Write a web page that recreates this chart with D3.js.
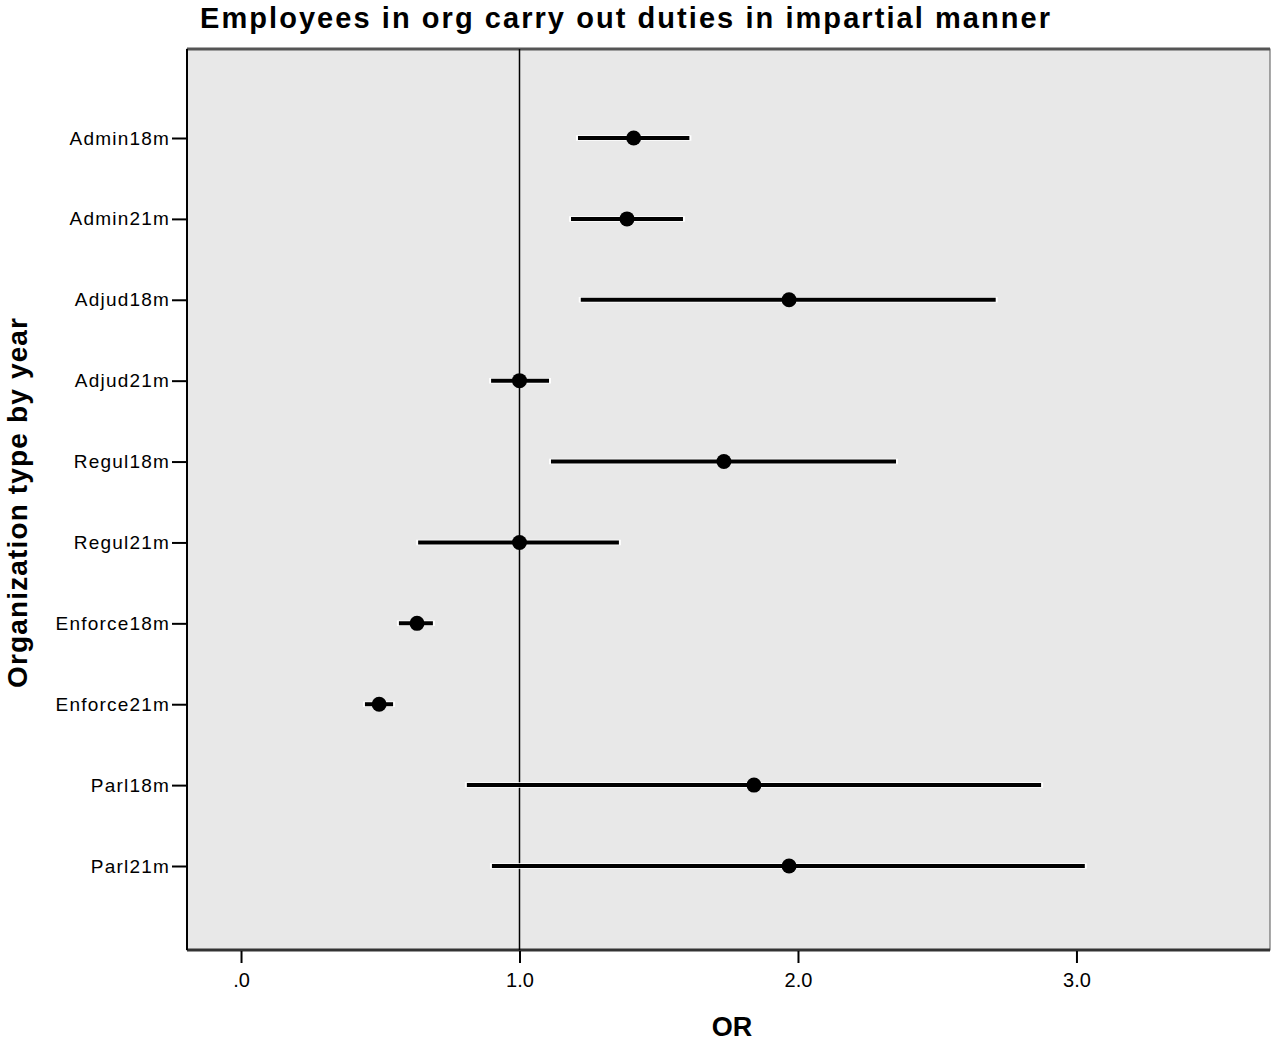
<!DOCTYPE html>
<html><head><meta charset="utf-8">
<script src="https://cdn.jsdelivr.net/npm/d3@7"></script>
<style>body{margin:0;background:#fff}svg{display:block}text{font-family:"Liberation Sans",Arial,sans-serif}</style>
</head><body>
<svg id="c" width="1275" height="1041"></svg>
<script>
const categories = ["Admin18m","Admin21m","Adjud18m","Adjud21m","Regul18m","Regul21m","Enforce18m","Enforce21m","Parl18m","Parl21m"];
const orValues   = [1.41, 1.386, 1.968, 1.0, 1.734, 1.0, 0.632, 0.496, 1.842, 1.968];
const ciLower    = [1.21, 1.185, 1.22, 0.898, 1.113, 0.636, 0.567, 0.445, 0.811, 0.901];
const ciUpper    = [1.61, 1.587, 2.71, 1.106, 2.352, 1.357, 0.689, 0.546, 2.873, 3.03];
const xTicks     = [0, 1, 2, 3];
const xTickLabels= [".0", "1.0", "2.0", "3.0"];
const refValue   = 1.0;

const svg = d3.select("#c");
const L = 187, R = 1270, T = 49, B = 950;

const x = d3.scaleLinear().domain([-0.194, 3.695]).range([L, R]);
const y = d3.scalePoint().domain(categories).range([T + 89, B - 84]);

// plot background
svg.append("rect").attr("x", L).attr("y", T).attr("width", R - L).attr("height", B - T)
  .attr("fill", "#e8e8e8").attr("stroke", "#555").attr("stroke-width", 1);
svg.append("line").attr("x1", L).attr("x2", R).attr("y1", T).attr("y2", T).attr("stroke", "#555").attr("stroke-width", 3);
svg.append("line").attr("x1", L).attr("x2", R).attr("y1", B).attr("y2", B).attr("stroke", "#333").attr("stroke-width", 3);
svg.append("line").attr("x1", L).attr("x2", L).attr("y1", T).attr("y2", B).attr("stroke", "#000").attr("stroke-width", 2);

// reference line
svg.append("line").attr("x1", x(refValue)).attr("x2", x(refValue)).attr("y1", T).attr("y2", B)
  .attr("stroke", "#000").attr("stroke-width", 1.5);

// x axis
const xAxis = d3.axisBottom(x).tickValues(xTicks).tickFormat((d, i) => xTickLabels[i]).tickSize(12).tickPadding(10);
const gx = svg.append("g").attr("transform", `translate(0,${B + 1})`).call(xAxis);
gx.select(".domain").remove();
gx.selectAll(".tick line").attr("stroke", "#000").attr("stroke-width", 2);
gx.selectAll(".tick text").attr("font-size", 20).attr("fill", "#000").style("font-family", "Liberation Sans, Arial, sans-serif");

// y axis
const yAxis = d3.axisLeft(y).tickSize(14).tickPadding(2);
const gy = svg.append("g").attr("transform", `translate(${L - 1},0)`).call(yAxis);
gy.select(".domain").remove();
gy.selectAll(".tick line").attr("stroke", "#000").attr("stroke-width", 2);
gy.selectAll(".tick text").attr("font-size", 19).attr("letter-spacing", 1.2).attr("fill", "#000").style("font-family", "Liberation Sans, Arial, sans-serif");

// error bars
const rows = categories.map((c, i) => ({c, v: orValues[i], lo: ciLower[i], hi: ciUpper[i]}));
const g = svg.append("g");
g.selectAll("line.halo").data(rows).join("line").attr("class", "halo")
  .attr("x1", d => x(d.lo) - 2).attr("x2", d => x(d.hi) + 2)
  .attr("y1", d => y(d.c)).attr("y2", d => y(d.c))
  .attr("stroke", "#fff").attr("stroke-width", 5.5);
g.selectAll("line.ci").data(rows).join("line").attr("class", "ci")
  .attr("x1", d => x(d.lo)).attr("x2", d => x(d.hi))
  .attr("y1", d => y(d.c)).attr("y2", d => y(d.c))
  .attr("stroke", "#000").attr("stroke-width", 4);
g.selectAll("circle").data(rows).join("circle")
  .attr("cx", d => x(d.v)).attr("cy", d => y(d.c)).attr("r", 7.5).attr("fill", "#000");

// titles
svg.append("text").attr("x", 200).attr("y", 28).attr("font-size", 29).attr("font-weight", "bold")
  .attr("textLength", 850).attr("lengthAdjust", "spacing")
  .text("Employees in org carry out duties in impartial manner");
svg.append("text").attr("x", 732).attr("y", 1036).attr("text-anchor", "middle").attr("font-size", 27).attr("font-weight", "bold").text("OR");
svg.append("text").attr("transform", "translate(27,503) rotate(-90)").attr("text-anchor", "middle")
  .attr("font-size", 28).attr("font-weight", "bold")
  .attr("textLength", 370).attr("lengthAdjust", "spacing")
  .text("Organization type by year");
</script>
</body></html>
